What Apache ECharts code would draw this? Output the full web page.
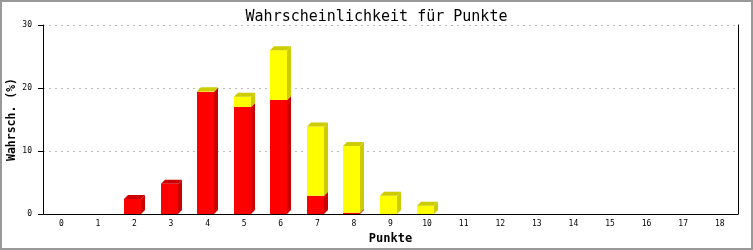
<!DOCTYPE html>
<html>
<head>
<meta charset="utf-8">
<script src="https://cdn.jsdelivr.net/npm/echarts@6/dist/echarts.min.js"></script>
<style>html,body{margin:0;padding:0;background:#fff}#c{width:753px;height:250px}</style>
</head>
<body>
<div id="c"></div>
<script>
var categories = ['0','1','2','3','4','5','6','7','8','9','10','11','12','13','14','15','16','17','18'];
var redValues =    [0, 0, 2.4, 4.8, 19.4, 17.0, 18.1, 2.9, 0.2, 0, 0, 0, 0, 0, 0, 0, 0, 0, 0];
var yellowValues = [0, 0, 0,   0,   0.1,  1.6,  7.9,  11.0, 10.6, 2.9, 1.3, 0, 0, 0, 0, 0, 0, 0, 0];
var yTicks = [0, 10, 20, 30];

var data = categories.map(function (c, i) { return [i, redValues[i], yellowValues[i]]; });
var MONO = '"DejaVu Sans Mono", "Liberation Mono", monospace';

function renderItem(params, api) {
  var i = api.value(0), r = api.value(1), yv = api.value(2);
  if (r + yv <= 0) return null;
  var base = api.coord([i, 0]);
  var pR = api.coord([i, r]);
  var pT = api.coord([i, r + yv]);
  var w = Math.round(api.size([1, 0])[0] * 0.465);
  var d = 4;
  var x0 = Math.round(base[0] - w / 2 - 2), x1 = x0 + w;
  var children = [];
  function seg(yb, yt, front, side) {
    if (yb - yt <= 0.01) return;
    children.push({type: 'polygon', shape: {points: [[x1, yb], [x1 + d, yb - d], [x1 + d, yt - d], [x1, yt]]}, style: {fill: side}});
    children.push({type: 'rect', shape: {x: x0, y: yt, width: w, height: yb - yt}, style: {fill: front}});
  }
  seg(base[1], pR[1], '#ff0000', '#cc0000');
  seg(pR[1], pT[1], '#ffff00', '#cccc00');
  var topCol = yv > 0 ? '#cccc00' : '#cc0000';
  children.push({type: 'polygon', shape: {points: [[x0, pT[1]], [x0 + d, pT[1] - d], [x1 + d, pT[1] - d], [x1, pT[1]]]}, style: {fill: topCol}});
  return {type: 'group', children: children};
}

var chart = echarts.init(document.getElementById('c'), null, {renderer: 'canvas'});
chart.setOption({
  animation: false,
  backgroundColor: '#fff',
  title: {
    text: 'Wahrscheinlichkeit für Punkte', left: 'center', top: 5,
    textStyle: {fontFamily: MONO, fontSize: 15, fontWeight: 'normal', color: '#000'}
  },
  graphic: [{type: 'rect', shape: {x: 1, y: 1, width: 751, height: 248}, style: {fill: null, stroke: '#999', lineWidth: 2}, silent: true}],
  grid: {left: 43, right: 15, top: 25, bottom: 36, containLabel: false, outerBoundsMode: 'none'},
  xAxis: {
    type: 'category', data: categories, boundaryGap: true,
    name: 'Punkte', nameLocation: 'middle', nameGap: 19,
    nameTextStyle: {fontFamily: MONO, fontSize: 12, fontWeight: 'bold', color: '#000'},
    axisLine: {lineStyle: {color: '#000', width: 1}},
    axisTick: {show: false},
    axisLabel: {fontFamily: MONO, fontSize: 8, color: '#000', margin: 6, interval: 0},
    splitLine: {show: false}
  },
  yAxis: [{
    type: 'value', min: yTicks[0], max: yTicks[yTicks.length - 1], interval: 10,
    name: 'Wahrsch. (%)', nameLocation: 'middle', nameGap: 25, nameRotate: 90, nameMoveOverlap: false,
    nameTextStyle: {fontFamily: MONO, fontSize: 11.5, fontWeight: 'bold', color: '#000'},
    axisLine: {show: true, lineStyle: {color: '#000', width: 1}},
    axisTick: {show: true, inside: false, length: 5, lineStyle: {color: '#000', width: 1}},
    axisLabel: {fontFamily: MONO, fontSize: 8, color: '#000', margin: 11},
    splitLine: {show: true, lineStyle: {color: '#bbb', type: [2, 4], width: 1}}
  }, {
    type: 'value', min: yTicks[0], max: yTicks[yTicks.length - 1], interval: 10, position: 'right',
    axisLine: {show: true, lineStyle: {color: '#000', width: 1}},
    axisTick: {show: false}, axisLabel: {show: false}, splitLine: {show: false}
  }, {
    type: 'value', min: yTicks[0], max: yTicks[yTicks.length - 1], interval: 10, position: 'left', offset: 0,
    axisLine: {show: false},
    axisTick: {show: true, length: 5, lineStyle: {color: '#000', width: 1}}, axisLabel: {show: false}, splitLine: {show: false}
  }],
  series: [{
    type: 'custom', renderItem: renderItem, data: data,
    encode: {x: 0, y: [1, 2]}, clip: false
  }]
});
</script>
</body>
</html>
